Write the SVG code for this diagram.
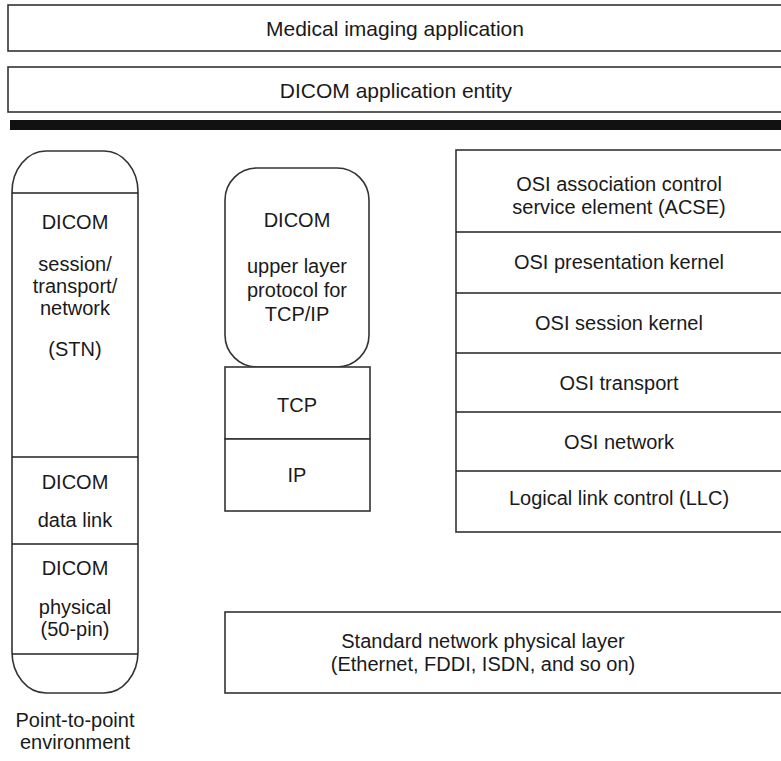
<svg xmlns="http://www.w3.org/2000/svg" width="781" height="761" viewBox="0 0 781 761">
<style>
.b{fill:#fff;stroke:#333;stroke-width:1.6}
.l{stroke:#222;stroke-width:1.6;fill:none}
text{font-family:"Liberation Sans",Arial,sans-serif;font-size:20px;fill:#1a1a1a;text-anchor:middle;dominant-baseline:central}
.t{font-size:21px}
</style>
<rect width="781" height="761" fill="#fff"/>
<g id="medical-imaging-application">
<rect class="b" x="8" y="5" width="790" height="46"/>
<text class="t" x="395" y="28">Medical imaging application</text>
</g>
<g id="dicom-application-entity">
<rect class="b" x="8" y="67" width="790" height="45"/>
<text class="t" x="396" y="90">DICOM application entity</text>
</g>
<g id="bar">
<rect x="10" y="120" width="780" height="10" fill="#111"/>
</g>
<g id="point-to-point">
<rect class="b" x="12" y="151" width="126" height="542" rx="34" ry="41"/>
<line class="l" x1="12" y1="193" x2="138" y2="193"/>
<line class="l" x1="12" y1="457" x2="138" y2="457"/>
<line class="l" x1="12" y1="544" x2="138" y2="544"/>
<line class="l" x1="12" y1="654" x2="138" y2="654"/>
<text x="75" y="222">DICOM</text>
<text x="75" y="264">session/</text>
<text x="75" y="286">transport/</text>
<text x="75" y="308">network</text>
<text x="75" y="349">(STN)</text>
<text x="75" y="482">DICOM</text>
<text x="75" y="520">data link</text>
<text x="75" y="568">DICOM</text>
<text x="75" y="607">physical</text>
<text x="75" y="629">(50-pin)</text>
<text x="75" y="720">Point-to-point</text>
<text x="75" y="742">environment</text>
</g>
<g id="dicom-upper-layer">
<rect class="b" x="225" y="168" width="144" height="199" rx="32" ry="32"/>
<text x="297" y="220">DICOM</text>
<text x="297" y="266">upper layer</text>
<text x="297" y="290">protocol for</text>
<text x="297" y="314">TCP/IP</text>
</g>
<g id="tcp">
<rect class="b" x="225" y="367" width="145" height="72"/>
<text x="297" y="405">TCP</text>
</g>
<g id="ip">
<rect class="b" x="225" y="439" width="145" height="72"/>
<text x="297" y="475">IP</text>
</g>
<g id="osi-stack">
<rect class="b" x="456" y="150" width="340" height="382"/>
<line class="l" x1="456" y1="232" x2="796" y2="232"/>
<line class="l" x1="456" y1="293" x2="796" y2="293"/>
<line class="l" x1="456" y1="353" x2="796" y2="353"/>
<line class="l" x1="456" y1="412" x2="796" y2="412"/>
<line class="l" x1="456" y1="471" x2="796" y2="471"/>
<text x="619" y="184">OSI association control</text>
<text x="619" y="207">service element (ACSE)</text>
<text x="619" y="262">OSI presentation kernel</text>
<text x="619" y="323">OSI session kernel</text>
<text x="619" y="383">OSI transport</text>
<text x="619" y="442">OSI network</text>
<text x="619" y="498">Logical link control (LLC)</text>
</g>
<g id="standard-network-physical">
<rect class="b" x="225" y="612" width="570" height="81"/>
<text x="483" y="641">Standard network physical layer</text>
<text x="483" y="664">(Ethernet, FDDI, ISDN, and so on)</text>
</g>
<g id="connectors"></g>
</svg>
